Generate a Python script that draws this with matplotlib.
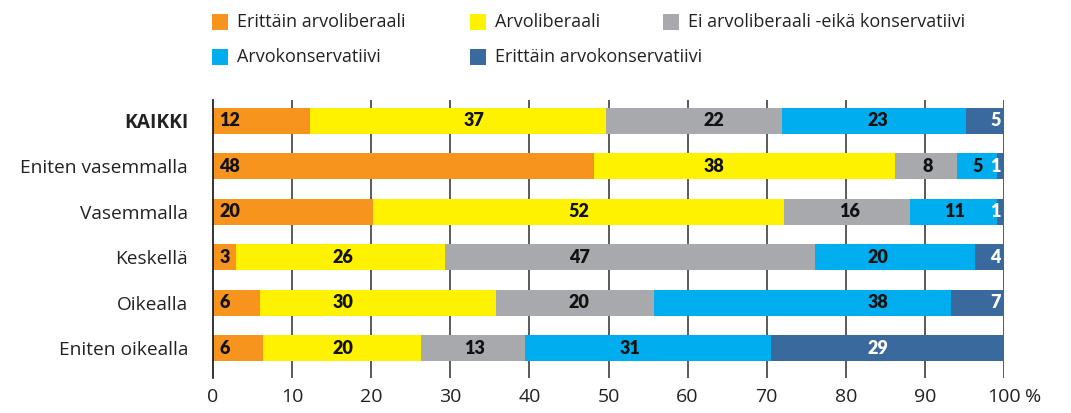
import matplotlib
matplotlib.use("Agg")
import matplotlib.pyplot as plt

plt.rcParams['font.family'] = ['Open Sans', 'DejaVu Sans']

categories = ["KAIKKI", "Eniten vasemmalla", "Vasemmalla", "Keskellä", "Oikealla", "Eniten oikealla"]
series_names = ["Erittäin arvoliberaali", "Arvoliberaali", "Ei arvoliberaali -eikä konservatiivi",
                "Arvokonservatiivi", "Erittäin arvokonservatiivi"]
colors = ["#F7941D", "#FFF200", "#A7A9AC", "#00AEEF", "#3A699D"]
text_colors = ["#111111", "#111111", "#111111", "#111111", "#FFFFFF"]

erittain_liberaali = [12.3, 48.2, 20.2, 2.9, 5.9, 6.3]
arvoliberaali = [37.4, 38.0, 52.0, 26.4, 29.9, 20.0]
ei_kumpikaan = [22.2, 7.9, 15.9, 46.8, 20.0, 13.1]
arvokonservatiivi = [23.3, 5.0, 11.0, 20.2, 37.5, 31.1]
erittain_konservatiivi = [4.8, 0.9, 0.9, 3.7, 6.7, 29.5]

labels_lib = ["12", "48", "20", "3", "6", "6"]
labels_arvolib = ["37", "38", "52", "26", "30", "20"]
labels_ei = ["22", "8", "16", "47", "20", "13"]
labels_kons = ["23", "5", "11", "20", "38", "31"]
labels_ekons = ["5", "1", "1", "4", "7", "29"]

tick_values = list(range(0, 101, 10))
tick_labels = [str(v) for v in tick_values]

# label x positions (data units) as placed in the original
pos_arvolib = [33.0, 63.3, 46.3, 16.4, 16.4, 16.4]
pos_ei = [63.3, 90.4, 80.5, 46.3, 46.3, 33.0]
pos_kons = [84.1, 96.7, 93.7, 84.1, 84.1, 52.7]
pos_ekons = [99.6, 99.6, 99.6, 99.6, 99.6, 84.1]

series = [erittain_liberaali, arvoliberaali, ei_kumpikaan, arvokonservatiivi, erittain_konservatiivi]

fig = plt.figure(figsize=(10.71, 4.13), dpi=100)
ax = fig.add_axes([213/1071, 1-378/413, (1004-213)/1071, (378-100)/413])

y = list(range(len(categories)))
left = [0.0]*len(categories)
for vals, col in zip(series, colors):
    ax.barh(y, vals, left=left, height=0.57, color=col, zorder=2, linewidth=0)
    left = [l + v for l, v in zip(left, vals)]

fs = 13
fw = 'heavy'
ff = ['Lato', 'DejaVu Sans']
for i in y:
    kw = dict(va='center', fontsize=fs, fontweight=fw, family=ff, zorder=3)
    ax.text(0.8, i, labels_lib[i], ha='left', color=text_colors[0], **kw)
    ax.text(pos_arvolib[i], i, labels_arvolib[i], ha='center', color=text_colors[1], **kw)
    ax.text(pos_ei[i], i, labels_ei[i], ha='center', color=text_colors[2], **kw)
    ax.text(pos_kons[i], i, labels_kons[i], ha='center', color=text_colors[3], **kw)
    ha = 'right' if pos_ekons[i] > 99 else 'center'
    ax.text(pos_ekons[i], i, labels_ekons[i], ha=ha, color=text_colors[4], **kw)

ax.set_xlim(0, 100)
ax.set_ylim(5.66, -0.46)
ax.set_xticks(tick_values)
ax.set_xticklabels(tick_labels, fontsize=14, color="#222222")
ax.annotate("%", xy=(100, 0), xycoords=('data', 'axes fraction'), xytext=(15, -7),
            textcoords='offset points', ha='left', va='top', fontsize=14, color="#222222")
ax.set_yticks(y)
ax.set_yticklabels(categories, fontsize=13.8, color="#222222")
ax.get_yticklabels()[0].set_fontweight('bold')
ax.tick_params(axis='both', length=0)
ax.tick_params(axis='x', pad=7)
ax.tick_params(axis='y', pad=18)
for s in ['top', 'right', 'bottom']:
    ax.spines[s].set_visible(False)
ax.spines['left'].set_color('#111111')
ax.spines['left'].set_linewidth(1.2)
ax.spines['left'].set_zorder(4)
for v in range(10, 101, 10):
    ax.axvline(v, color='#4D4D4D', linewidth=1.3, zorder=1)

leg_pos = [(212, 22), (470, 22), (663, 22), (212, 57), (470, 57)]
for col, name, (px, py) in zip(colors, series_names, leg_pos):
    fig.patches.append(plt.Rectangle((px/1071, 1-(py+8)/413), 16/1071, 16/413,
                                     transform=fig.transFigure, facecolor=col, edgecolor='none'))
    fig.text((px+25)/1071, 1-py/413, name, ha='left', va='center', fontsize=13, color='#222222')

fig.savefig("out.png", dpi=100)
